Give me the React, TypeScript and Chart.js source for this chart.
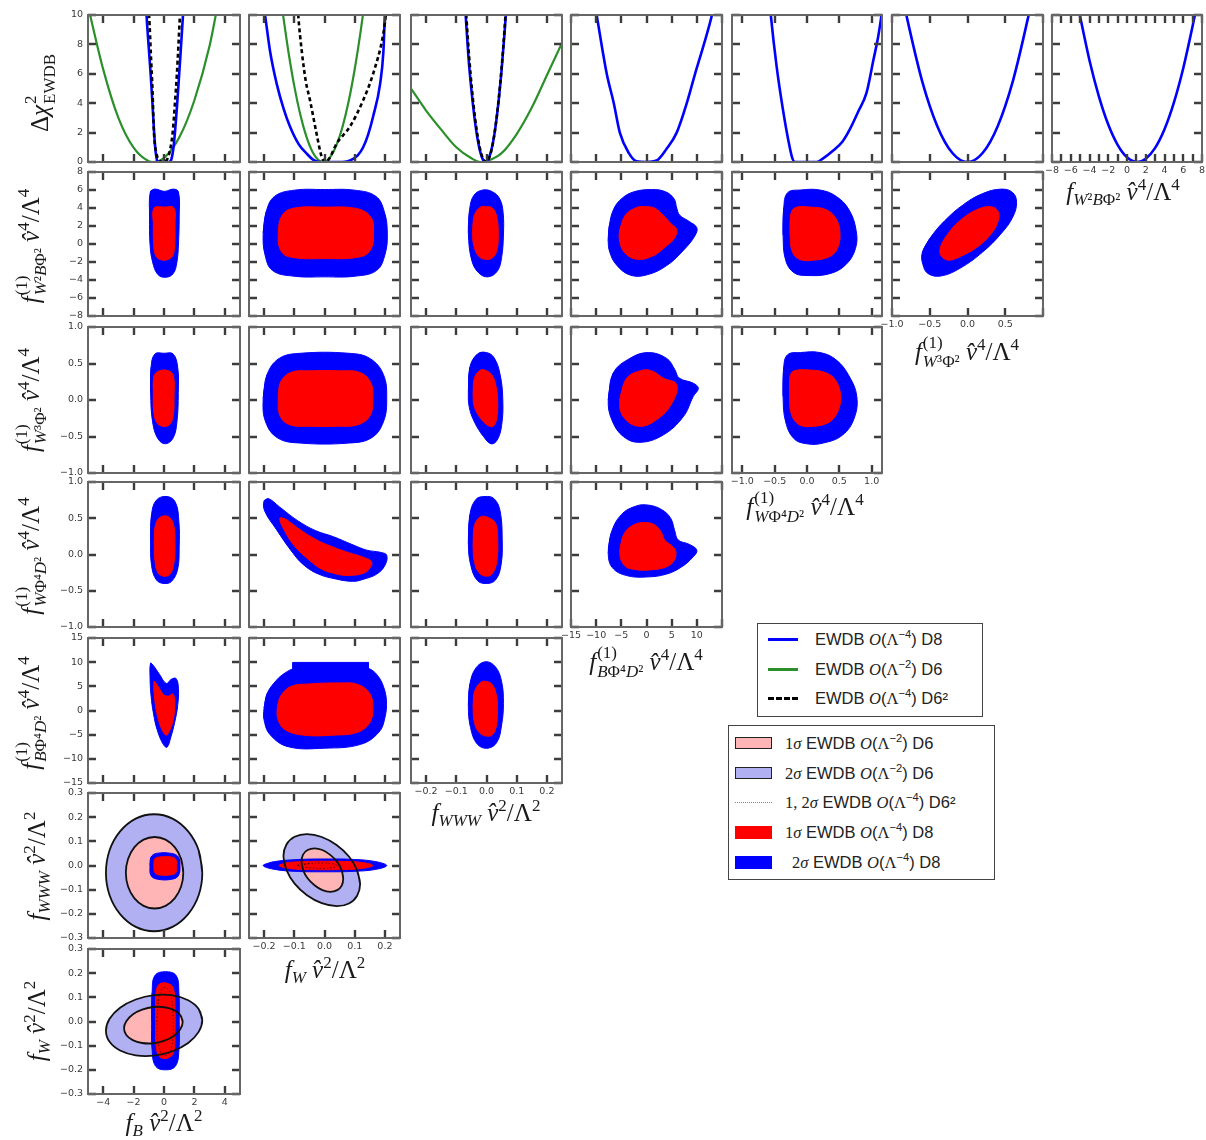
import React, { useEffect, useRef } from "react";
import { Chart, registerables } from "chart.js";

Chart.register(...registerables);

type Pt = [number, number];

/* ================= DATA ================= */
// columns: f_B, f_W, f_WWW, f_BΦ4D2, f_WΦ4D2, f_W3Φ2, f_W2BΦ2
const colRange: [number, number][] = [[-5, 5], [-0.25, 0.25], [-0.25, 0.25], [-15, 15], [-1.16, 1.16], [-1, 1], [-8, 8]];
// rows: Δχ², f_W2BΦ2, f_W3Φ2, f_WΦ4D2, f_BΦ4D2, f_WWW, f_W
const rowRange: [number, number][] = [[0, 10], [-8, 8], [-1, 1], [-1, 1], [-15, 15], [-0.3, 0.3], [-0.3, 0.3]];

const ticksFB = [-4, -2, 0, 2, 4];
const labelsFB = ["−4", "−2", "0", "2", "4"];
const ticksSmall = [-0.2, -0.1, 0, 0.1, 0.2];
const labelsSmall = ["−0.2", "−0.1", "0.0", "0.1", "0.2"];
const ticksFifteen = [-15, -10, -5, 0, 5, 10, 15];
const labelsFifteenX = ["−15", "−10", "−5", "0", "5", "10", ""];
const labelsFifteenY = ["−15", "−10", "−5", "0", "5", "10", "15"];
const ticksUnit = [-1, -0.5, 0, 0.5, 1];
const labelsUnit = ["−1.0", "−0.5", "0.0", "0.5", "1.0"];
const labelsUnitX5 = ["−1.0", "−0.5", "0.0", "0.5", ""];
const ticksEightX = [-8, -7, -6, -5, -4, -3, -2, -1, 0, 1, 2, 3, 4, 5, 6, 7, 8];
const labelsEightX = ["−8", "", "−6", "", "−4", "", "−2", "", "0", "", "2", "", "4", "", "6", "", "8"];
const ticksEightY = [-8, -6, -4, -2, 0, 2, 4, 6, 8];
const labelsEightY = ["−8", "−6", "−4", "−2", "0", "2", "4", "6", "8"];
const ticksChi = [0, 2, 4, 6, 8, 10];
const labelsChi = ["0", "2", "4", "6", "8", "10"];
const ticksThree = [-0.3, -0.2, -0.1, 0, 0.1, 0.2, 0.3];
const labelsThree = ["−0.3", "−0.2", "−0.1", "0.0", "0.1", "0.2", "0.3"];

const colTicks = [ticksFB, ticksSmall, ticksSmall, ticksFifteen, ticksUnit, ticksUnit, ticksEightX];
const colLabels = [labelsFB, labelsSmall, labelsSmall, labelsFifteenX, labelsUnit, labelsUnitX5, labelsEightX];
const rowTicks = [ticksChi, ticksEightY, ticksUnit, ticksUnit, ticksFifteen, ticksThree, ticksThree];
const rowLabels = [labelsChi, labelsEightY, labelsUnit, labelsUnit, labelsFifteenY, labelsThree, labelsThree];

// ---- Δχ² profiles (row 0) ----
const chiFB_D8: Pt[] = [[-1.2, 11], [-1.15, 10], [-0.88, 6], [-0.76, 4], [-0.65, 2], [-0.55, 0.7], [-0.45, 0.1], [-0.3, 0], [0.3, 0], [0.45, 0.1], [0.6, 0.8], [0.72, 2], [0.87, 4], [1.0, 6], [1.25, 10], [1.3, 11]];
const chiFB_D6: Pt[] = [[-5, 10.6], [-4, 6.3], [-3, 3.0], [-2, 0.97], [-1, 0.05], [-0.7, 0], [0, 0.28], [1, 1.66], [2, 4.2], [3, 7.9], [3.5, 10.5]];
const chiFB_D6sq: Pt[] = [[-1.05, 11], [-0.98, 10], [-0.85, 7], [-0.76, 5], [-0.66, 2], [-0.5, 0.6], [-0.3, 0.1], [-0.1, 0], [0.15, 0.1], [0.35, 0.6], [0.57, 2], [0.72, 4], [0.85, 6], [1.05, 10], [1.1, 11]];

const chiFW_D8: Pt[] = [[-0.205, 11], [-0.197, 10], [-0.18, 7.5], [-0.158, 5.3], [-0.135, 3.6], [-0.114, 2.4], [-0.085, 1.2], [-0.059, 0.57], [-0.035, 0.12], [-0.015, 0], [0.06, 0], [0.085, 0.1], [0.11, 0.45], [0.128, 1.0], [0.145, 1.9], [0.161, 3.1], [0.184, 5.3], [0.195, 7.5], [0.2, 10], [0.205, 11.5]];
const chiFW_D6: Pt[] = [[-0.14, 10.4], [-0.12, 7.57], [-0.1, 5.16], [-0.08, 3.21], [-0.06, 1.73], [-0.04, 0.7], [-0.02, 0.13], [0, 0.01], [0.02, 0.36], [0.04, 1.16], [0.06, 2.42], [0.08, 4.13], [0.1, 6.31], [0.12, 8.94], [0.135, 11.2]];
const chiFW_D6sq: Pt[] = [[-0.09, 11], [-0.087, 10], [-0.075, 7.5], [-0.062, 5.5], [-0.048, 4.2], [-0.026, 1.9], [-0.01, 0.4], [0.003, 0], [0.015, 0.2], [0.04, 1.25], [0.084, 2.4], [0.128, 4.2], [0.161, 6.0], [0.195, 8.75], [0.205, 10.3]];

const chiFWWW_D8: Pt[] = [[-0.072, 11], [-0.069, 10], [-0.06, 7.2], [-0.05, 4.9], [-0.04, 3.05], [-0.03, 1.62], [-0.02, 0.64], [-0.01, 0.11], [0, 0.02], [0.01, 0.38], [0.02, 1.17], [0.03, 2.42], [0.04, 4.12], [0.05, 6.26], [0.06, 8.85], [0.065, 10.3]];
const chiFWWW_D6: Pt[] = [[-0.25, 5.0], [-0.2, 3.5], [-0.15, 2.2], [-0.1, 1.0], [-0.05, 0.25], [-0.02, 0], [0, 0.05], [0.05, 0.6], [0.1, 1.9], [0.15, 3.7], [0.2, 5.9], [0.25, 8.1]];
const chiFWWW_D6sq: Pt[] = [[-0.07, 11], [-0.067, 10], [-0.058, 7.3], [-0.048, 4.9], [-0.038, 3.0], [-0.028, 1.6], [-0.018, 0.6], [-0.008, 0.1], [0, 0], [0.01, 0.35], [0.02, 1.15], [0.03, 2.45], [0.04, 4.2], [0.05, 6.4], [0.06, 9.1], [0.064, 10.4]];

const chiBPhi_D8: Pt[] = [[-10.2, 10.6], [-10, 10.2], [-7.9, 6], [-6.5, 4], [-5.3, 2], [-3.5, 0.6], [-2, 0.05], [0, 0], [2, 0.1], [4, 0.9], [6, 2], [8, 4], [9.65, 6], [11.4, 8], [13, 10], [13.3, 10.5]];
const chiWPhi_D8: Pt[] = [[-0.58, 11], [-0.56, 10], [-0.47, 6.5], [-0.37, 3.5], [-0.29, 1.5], [-0.23, 0.3], [-0.185, 0], [0.15, 0], [0.25, 0.25], [0.41, 0.8], [0.55, 1.4], [0.66, 2.2], [0.8, 3.5], [0.92, 4.7], [1.03, 7], [1.1, 8.5], [1.16, 10.2]];
const chiW3_D8: Pt[] = [[-0.85, 11], [-0.8, 9.77], [-0.6, 5.49], [-0.4, 2.44], [-0.2, 0.61], [0, 0], [0.2, 0.61], [0.4, 2.44], [0.6, 5.49], [0.8, 9.77], [0.85, 11]];
const chiW2B_D8: Pt[] = [[-5.2, 10.5], [-4, 6.91], [-3, 4.47], [-2, 2.55], [-1, 1.17], [0, 0.32], [1.1, 0], [2, 0.22], [3, 0.96], [4, 2.23], [5, 4.04], [6, 6.38], [7, 9.25], [7.4, 10.5]];

// ---- 2D regions: row 1 (f_W2BΦ2) ----
const r1c0Blue: Pt[] = [[-0.9, 5.8], [-0.6, 6.1], [0.05, 5.85], [0.6, 6.1], [0.95, 5.8], [1.0, 3], [0.95, 0], [0.85, -2], [0.6, -3.3], [0.1, -3.7], [-0.4, -3.4], [-0.75, -2], [-0.92, 0], [-0.95, 3]];
const r1c0Red: Pt[] = [[-0.65, 4.0], [0, 4.1], [0.65, 4.0], [0.72, 2], [0.7, 0], [0.6, -1.2], [0.3, -1.7], [-0.2, -1.75], [-0.55, -1.3], [-0.68, 0], [-0.7, 2]];
const r1c1Blue: Pt[] = [[-0.203, 1.2], [-0.193, 3.6], [-0.165, 5.3], [-0.1, 5.98], [0, 6.05], [0.1, 5.98], [0.17, 5.3], [0.198, 3.6], [0.208, 1.2], [0.2, -1.2], [0.172, -2.95], [0.1, -3.58], [0, -3.65], [-0.1, -3.58], [-0.172, -2.95], [-0.197, -1.2]];
const r1c1Red: Pt[] = [[-0.153, 1.2], [-0.145, 2.9], [-0.112, 3.9], [0, 4.1], [0.112, 3.9], [0.155, 2.9], [0.162, 1.2], [0.155, -0.5], [0.122, -1.4], [0, -1.62], [-0.12, -1.4], [-0.148, -0.5]];
const r1c2Blue: Pt[] = [[-0.06, 1.2], [-0.056, 3.8], [-0.042, 5.4], [-0.012, 6.0], [0.02, 5.8], [0.044, 5.0], [0.055, 3.5], [0.056, 1.0], [0.05, -1.5], [0.036, -3.0], [0.005, -3.65], [-0.026, -3.2], [-0.049, -1.8]];
const r1c2Red: Pt[] = [[-0.046, 1.2], [-0.04, 3.2], [-0.02, 4.1], [0, 4.15], [0.02, 4.0], [0.034, 3.0], [0.039, 1.2], [0.035, -0.6], [0.021, -1.5], [0, -1.72], [-0.025, -1.4], [-0.041, -0.3]];
const r1c3Blue: Pt[] = [[-7.6, 0.3], [-7.4, 2.0], [-6.5, 3.9], [-4.8, 5.1], [-2.5, 5.8], [1.0, 6.05], [3.8, 5.8], [5.5, 5.0], [6.0, 4.0], [6.6, 3.2], [8.5, 2.5], [10.0, 1.8], [9.6, 0.9], [7.5, -0.6], [4.0, -2.4], [0.0, -3.44], [-3.3, -3.44], [-6.0, -2.3], [-7.3, -0.9]];
const r1c3Red: Pt[] = [[-5.3, 1.56], [-4.2, 3.2], [-2.0, 4.05], [0.0, 4.15], [1.7, 3.96], [3.3, 3.2], [4.8, 2.3], [6.0, 1.6], [5.5, 0.6], [4.0, -0.2], [1.35, -1.3], [-1.95, -1.7], [-4.3, -1.0], [-5.3, 0.2]];
const r1c4Blue: Pt[] = [[-0.37, 1.0], [-0.36, 4.0], [-0.3, 5.7], [-0.1, 6.0], [0.2, 6.0], [0.45, 5.3], [0.65, 3.8], [0.76, 1.5], [0.75, -0.5], [0.6, -2.3], [0.35, -3.3], [0.0, -3.5], [-0.2, -3.2], [-0.33, -1.8]];
const r1c4Red: Pt[] = [[-0.26, 1.0], [-0.25, 3.3], [-0.18, 4.05], [0.05, 4.1], [0.3, 3.8], [0.45, 2.8], [0.51, 1.2], [0.47, -0.5], [0.35, -1.4], [0.1, -1.8], [-0.12, -1.7], [-0.23, -0.8]];
const r1c5Blue: Pt[] = [[-0.6, -1.0], [-0.5, 0.6], [-0.3, 2.6], [-0.05, 4.4], [0.2, 5.6], [0.45, 6.1], [0.6, 5.7], [0.65, 4.6], [0.6, 3.0], [0.45, 1.2], [0.2, -0.9], [-0.1, -2.7], [-0.35, -3.55], [-0.52, -3.3], [-0.59, -2.3]];
const r1c5Red: Pt[] = [[-0.36, -0.4], [-0.28, 0.9], [-0.1, 2.6], [0.12, 3.8], [0.3, 4.15], [0.4, 3.7], [0.41, 2.7], [0.32, 1.2], [0.12, -0.4], [-0.1, -1.4], [-0.25, -1.8], [-0.35, -1.3]];

// ---- row 2 (f_W3Φ2) ----
const r2c0Blue: Pt[] = [[-0.88, 0.1], [-0.85, 0.45], [-0.6, 0.63], [0.0, 0.64], [0.6, 0.63], [0.9, 0.45], [0.94, 0.1], [0.85, -0.3], [0.6, -0.52], [0.1, -0.6], [-0.4, -0.53], [-0.75, -0.3]];
const r2c0Red: Pt[] = [[-0.7, 0.05], [-0.65, 0.33], [-0.3, 0.4], [0.3, 0.4], [0.62, 0.33], [0.66, 0.05], [0.6, -0.22], [0.35, -0.34], [-0.1, -0.36], [-0.5, -0.3], [-0.68, -0.15]];
const r2c1Blue: Pt[] = [[-0.203, 0.02], [-0.19, 0.35], [-0.15, 0.57], [-0.08, 0.64], [0.08, 0.64], [0.15, 0.57], [0.195, 0.35], [0.206, 0.02], [0.195, -0.3], [0.155, -0.52], [0.08, -0.59], [-0.08, -0.59], [-0.155, -0.52], [-0.195, -0.3]];
const r2c1Red: Pt[] = [[-0.153, 0.02], [-0.145, 0.25], [-0.11, 0.38], [-0.05, 0.4], [0.05, 0.4], [0.115, 0.38], [0.152, 0.25], [0.16, 0.02], [0.15, -0.22], [0.11, -0.34], [0.04, -0.36], [-0.05, -0.36], [-0.115, -0.34], [-0.147, -0.22]];
const r2c2Blue: Pt[] = [[-0.06, 0.1], [-0.055, 0.45], [-0.03, 0.63], [0, 0.65], [0.025, 0.58], [0.045, 0.35], [0.054, 0], [0.05, -0.35], [0.035, -0.55], [0.015, -0.6], [-0.01, -0.5], [-0.04, -0.3], [-0.057, -0.1]];
const r2c2Red: Pt[] = [[-0.044, 0.05], [-0.04, 0.3], [-0.02, 0.41], [0, 0.4], [0.02, 0.33], [0.033, 0.15], [0.037, -0.05], [0.034, -0.25], [0.022, -0.36], [0.005, -0.35], [-0.02, -0.25], [-0.04, -0.1]];
const r2c3Blue: Pt[] = [[-7.6, 0], [-6.6, 0.37], [-3.3, 0.57], [0.36, 0.65], [4.0, 0.57], [5.6, 0.42], [6.5, 0.3], [9.3, 0.23], [10.3, 0.16], [9.3, 0.05], [7.3, -0.23], [3.3, -0.48], [-1.3, -0.58], [-4.6, -0.5], [-6.9, -0.27]];
const r2c3Red: Pt[] = [[-5.3, 0], [-3.9, 0.3], [-0.6, 0.41], [1.35, 0.39], [3.3, 0.3], [6.0, 0.21], [5.0, -0.05], [2.0, -0.27], [-1.6, -0.36], [-4.6, -0.23]];
const r2c4Blue: Pt[] = [[-0.37, 0.05], [-0.36, 0.45], [-0.3, 0.62], [-0.1, 0.65], [0.2, 0.65], [0.45, 0.55], [0.65, 0.33], [0.77, 0.05], [0.73, -0.25], [0.55, -0.48], [0.25, -0.59], [0, -0.6], [-0.2, -0.53], [-0.33, -0.3]];
const r2c4Red: Pt[] = [[-0.27, 0.05], [-0.26, 0.33], [-0.2, 0.4], [0.05, 0.41], [0.3, 0.37], [0.45, 0.26], [0.52, 0.05], [0.48, -0.15], [0.35, -0.3], [0.1, -0.36], [-0.12, -0.34], [-0.24, -0.2]];

// ---- row 3 (f_WΦ4D2) ----
const r3c0Blue: Pt[] = [[-0.88, 0.2], [-0.82, 0.55], [-0.5, 0.75], [0.2, 0.8], [0.75, 0.72], [0.98, 0.45], [1.0, 0.1], [0.9, -0.2], [0.5, -0.37], [0, -0.4], [-0.5, -0.35], [-0.82, -0.15]];
const r3c0Red: Pt[] = [[-0.64, 0.15], [-0.55, 0.42], [-0.2, 0.52], [0.3, 0.52], [0.62, 0.42], [0.72, 0.15], [0.65, -0.12], [0.4, -0.27], [0, -0.3], [-0.4, -0.25], [-0.6, -0.08]];
const r3c1Blue: Pt[] = [[-0.2, 0.74], [-0.185, 0.77], [-0.15, 0.66], [-0.09, 0.47], [-0.03, 0.33], [0.03, 0.245], [0.09, 0.14], [0.14, 0.06], [0.185, 0.03], [0.206, -0.01], [0.2, -0.15], [0.173, -0.27], [0.13, -0.34], [0.095, -0.37], [0.04, -0.34], [-0.02, -0.27], [-0.07, -0.14], [-0.11, 0.05], [-0.16, 0.35], [-0.198, 0.6]];
const r3c1Red: Pt[] = [[-0.148, 0.5], [-0.13, 0.49], [-0.08, 0.34], [-0.026, 0.2], [0.03, 0.1], [0.084, 0.02], [0.13, -0.04], [0.156, -0.1], [0.148, -0.2], [0.128, -0.26], [0.08, -0.29], [0.04, -0.27], [-0.01, -0.2], [-0.05, -0.08], [-0.1, 0.12], [-0.135, 0.35]];
const r3c2Blue: Pt[] = [[-0.06, 0.15], [-0.055, 0.55], [-0.035, 0.76], [-0.005, 0.8], [0.025, 0.77], [0.045, 0.6], [0.052, 0.2], [0.048, -0.15], [0.03, -0.35], [0, -0.4], [-0.03, -0.36], [-0.052, -0.15]];
const r3c2Red: Pt[] = [[-0.044, 0.1], [-0.04, 0.4], [-0.02, 0.52], [0.005, 0.51], [0.03, 0.43], [0.037, 0.2], [0.034, -0.1], [0.02, -0.26], [0, -0.3], [-0.025, -0.25], [-0.04, -0.1]];
const r3c3Blue: Pt[] = [[-7.6, 0.02], [-7.0, 0.3], [-5.0, 0.55], [-2.0, 0.67], [0.5, 0.68], [3.0, 0.62], [4.8, 0.5], [5.6, 0.33], [6.3, 0.2], [8.5, 0.14], [10.0, 0.06], [9.3, -0.03], [7.0, -0.17], [4.0, -0.27], [0, -0.31], [-4.0, -0.29], [-6.8, -0.18]];
const r3c3Red: Pt[] = [[-5.3, 0.03], [-4.5, 0.28], [-2.5, 0.41], [0, 0.44], [1.8, 0.4], [3.0, 0.3], [3.6, 0.2], [5.0, 0.12], [5.8, 0.05], [5.5, -0.08], [4.0, -0.17], [1.0, -0.21], [-2.0, -0.21], [-4.4, -0.15]];

// ---- row 4 (f_BΦ4D2) ----
const r4c0Blue: Pt[] = [[-0.88, 9.8], [-0.7, 9.3], [-0.3, 7.5], [0.15, 5.6], [0.5, 6.5], [0.8, 6.6], [0.95, 4.5], [0.9, 1.0], [0.7, -2.5], [0.45, -5.5], [0.2, -7.6], [-0.05, -7.0], [-0.45, -4.0], [-0.7, -0.5], [-0.85, 3.0], [-0.92, 7.0]];
const r4c0Red: Pt[] = [[-0.65, 6.0], [-0.4, 5.0], [0, 3.2], [0.3, 3.0], [0.6, 3.4], [0.7, 1.0], [0.6, -2.0], [0.35, -4.3], [0.15, -5.1], [-0.1, -4.2], [-0.4, -1.5], [-0.6, 2.0]];
const r4c1Blue: Pt[] = [[-0.2, 0.5], [-0.19, 3.5], [-0.16, 6.2], [-0.13, 7.8], [-0.1, 8.7], [-0.05, 9.3], [0.05, 9.35], [0.12, 9.1], [0.15, 8.6], [0.175, 7.3], [0.195, 5.0], [0.205, 2.0], [0.2, -1.5], [0.18, -4.5], [0.12, -7.0], [0, -7.8], [-0.12, -7.5], [-0.18, -5.0], [-0.2, -2.0]];
const r4c1BlueBar: Pt[] = [[-0.105, 8.0], [-0.105, 9.95], [0.145, 9.95], [0.145, 8.0]];
const r4c1Red: Pt[] = [[-0.156, 0.5], [-0.145, 3.0], [-0.11, 5.0], [-0.05, 5.5], [0.05, 5.7], [0.11, 5.4], [0.15, 3.5], [0.16, 0.5], [0.15, -2.5], [0.11, -4.5], [0.03, -5.1], [-0.07, -5.1], [-0.13, -4.0], [-0.153, -2.0]];
const r4c2Blue: Pt[] = [[-0.06, 1.0], [-0.055, 5.5], [-0.035, 8.8], [-0.002, 10.1], [0.03, 9.0], [0.05, 6.0], [0.056, 1.5], [0.05, -3.0], [0.035, -6.5], [0.005, -7.8], [-0.03, -7.0], [-0.053, -3.5]];
const r4c2Red: Pt[] = [[-0.044, 0.5], [-0.04, 3.8], [-0.02, 5.8], [0, 6.0], [0.02, 5.3], [0.033, 3.0], [0.036, 0], [0.033, -3.0], [0.02, -5.0], [0, -5.3], [-0.025, -4.5], [-0.04, -2.5]];

// ---- row 5 (f_WWW) ----
const r5c0D6two: Pt[] = [[2.52, -0.03], [2.28, 0.063], [1.59, 0.141], [0.56, 0.194], [-0.65, 0.212], [-1.86, 0.194], [-2.89, 0.141], [-3.58, 0.063], [-3.82, -0.03], [-3.58, -0.123], [-2.89, -0.201], [-1.86, -0.254], [-0.65, -0.272], [0.56, -0.254], [1.59, -0.201], [2.28, -0.123]];
const r5c0D6one: Pt[] = [[1.27, -0.03], [1.126, 0.027], [0.716, 0.075], [0.104, 0.107], [-0.62, 0.118], [-1.344, 0.107], [-1.956, 0.075], [-2.366, 0.027], [-2.51, -0.03], [-2.366, -0.087], [-1.956, -0.135], [-1.344, -0.167], [-0.62, -0.178], [0.104, -0.167], [0.716, -0.135], [1.126, -0.087]];
const r5c0Blue: Pt[] = [[-0.92, 0.0], [-0.85, 0.035], [-0.5, 0.05], [0.5, 0.05], [0.95, 0.035], [1.05, 0.0], [0.95, -0.042], [0.5, -0.057], [-0.4, -0.057], [-0.85, -0.042]];
const r5c0Red: Pt[] = [[-0.66, 0.0], [-0.6, 0.028], [-0.3, 0.035], [0.5, 0.035], [0.78, 0.025], [0.83, 0.0], [0.78, -0.03], [0.4, -0.039], [-0.3, -0.039], [-0.6, -0.03]];
const r5c1D6two: Pt[] = [[0.118, -0.077], [0.108, -0.02], [0.081, 0.037], [0.04, 0.085], [-0.009, 0.118], [-0.058, 0.13], [-0.099, 0.119], [-0.126, 0.087], [-0.136, 0.039], [-0.126, -0.018], [-0.099, -0.075], [-0.058, -0.123], [-0.009, -0.156], [0.04, -0.168], [0.081, -0.157], [0.108, -0.125]];
const r5c1D6one: Pt[] = [[0.062, -0.054], [0.057, -0.02], [0.042, 0.015], [0.019, 0.044], [-0.007, 0.064], [-0.033, 0.071], [-0.056, 0.064], [-0.071, 0.045], [-0.076, 0.016], [-0.071, -0.018], [-0.056, -0.053], [-0.033, -0.082], [-0.007, -0.102], [0.019, -0.109], [0.042, -0.102], [0.057, -0.083]];
const r5c1Blue: Pt[] = [[-0.203, 0.0], [-0.17, 0.015], [-0.1, 0.024], [0.0, 0.027], [0.1, 0.025], [0.17, 0.016], [0.206, 0.0], [0.17, -0.016], [0.1, -0.024], [0.0, -0.026], [-0.1, -0.024], [-0.17, -0.015]];
const r5c1Red: Pt[] = [[-0.15, 0.0], [-0.12, 0.012], [-0.05, 0.017], [0.05, 0.017], [0.12, 0.013], [0.16, 0.0], [0.12, -0.013], [0.05, -0.017], [-0.05, -0.017], [-0.12, -0.012]];
const r5c1D6sq: Pt[] = [[-0.09, 0], [-0.05, 0.008], [0.0, 0.01], [0.03, 0.006], [0.04, 0], [0.03, -0.008], [0, -0.012], [-0.05, -0.009]];

// ---- row 6 (f_W) ----
const r6c0D6two: Pt[] = [[2.52, 0.006], [2.28, 0.052], [1.59, 0.088], [0.56, 0.108], [-0.65, 0.109], [-1.86, 0.091], [-2.89, 0.057], [-3.58, 0.011], [-3.82, -0.038], [-3.58, -0.084], [-2.89, -0.12], [-1.86, -0.14], [-0.65, -0.141], [0.56, -0.123], [1.59, -0.089], [2.28, -0.043]];
const r6c0D6one: Pt[] = [[1.23, -0.002], [1.08, 0.026], [0.66, 0.047], [0.04, 0.059], [-0.7, 0.06], [-1.44, 0.049], [-2.06, 0.029], [-2.48, 0.001], [-2.63, -0.028], [-2.48, -0.056], [-2.06, -0.077], [-1.44, -0.089], [-0.7, -0.09], [0.04, -0.079], [0.66, -0.059], [1.08, -0.031]];
const r6c0Blue: Pt[] = [[-0.81, 0.0], [-0.78, 0.12], [-0.6, 0.19], [0.1, 0.206], [0.8, 0.19], [0.98, 0.12], [1.0, 0.0], [0.98, -0.12], [0.75, -0.185], [0.1, -0.2], [-0.55, -0.185], [-0.78, -0.12]];
const r6c0Red: Pt[] = [[-0.55, 0.0], [-0.52, 0.12], [-0.3, 0.155], [0.2, 0.158], [0.6, 0.14], [0.72, 0.06], [0.72, -0.05], [0.62, -0.13], [0.2, -0.152], [-0.3, -0.145], [-0.52, -0.1]];
const r6c0D6sq: Pt[] = [[-0.45, 0], [-0.35, 0.1], [0, 0.14], [0.4, 0.12], [0.6, 0.0], [0.45, -0.12], [0, -0.14], [-0.35, -0.1]];

type Layer = [string, Pt[]];
const panelLayers: Record<string, Layer[]> = {
  "0-0": [["cGreen", chiFB_D6], ["cBlue", chiFB_D8], ["cDash", chiFB_D6sq]],
  "0-1": [["cGreen", chiFW_D6], ["cBlue", chiFW_D8], ["cDash", chiFW_D6sq]],
  "0-2": [["cGreen", chiFWWW_D6], ["cBlue", chiFWWW_D8], ["cDash", chiFWWW_D6sq]],
  "0-3": [["cBlue", chiBPhi_D8]],
  "0-4": [["cBlue", chiWPhi_D8]],
  "0-5": [["cBlue", chiW3_D8]],
  "0-6": [["cBlue", chiW2B_D8]],
  "1-0": [["d8two", r1c0Blue], ["d8one", r1c0Red]],
  "1-1": [["d8two", r1c1Blue], ["d8one", r1c1Red]],
  "1-2": [["d8two", r1c2Blue], ["d8one", r1c2Red]],
  "1-3": [["d8two", r1c3Blue], ["d8one", r1c3Red]],
  "1-4": [["d8two", r1c4Blue], ["d8one", r1c4Red]],
  "1-5": [["d8two", r1c5Blue], ["d8one", r1c5Red]],
  "2-0": [["d8two", r2c0Blue], ["d8one", r2c0Red]],
  "2-1": [["d8two", r2c1Blue], ["d8one", r2c1Red]],
  "2-2": [["d8two", r2c2Blue], ["d8one", r2c2Red]],
  "2-3": [["d8two", r2c3Blue], ["d8one", r2c3Red]],
  "2-4": [["d8two", r2c4Blue], ["d8one", r2c4Red]],
  "3-0": [["d8two", r3c0Blue], ["d8one", r3c0Red]],
  "3-1": [["d8two", r3c1Blue], ["d8one", r3c1Red]],
  "3-2": [["d8two", r3c2Blue], ["d8one", r3c2Red]],
  "3-3": [["d8two", r3c3Blue], ["d8one", r3c3Red]],
  "4-0": [["d8two", r4c0Blue], ["d8one", r4c0Red]],
  "4-1": [["d8two", r4c1Blue], ["bar", r4c1BlueBar], ["d8one", r4c1Red]],
  "4-2": [["d8two", r4c2Blue], ["d8one", r4c2Red]],
  "5-0": [["d6two", r5c0D6two], ["d6one", r5c0D6one], ["d8two", r5c0Blue], ["d8one", r5c0Red], ["outline", r5c0D6two], ["outline", r5c0D6one]],
  "5-1": [["d6two", r5c1D6two], ["d6one", r5c1D6one], ["d8two", r5c1Blue], ["d8one", r5c1Red], ["dot", r5c1D6sq], ["outline", r5c1D6two], ["outline", r5c1D6one]],
  "6-0": [["d6two", r6c0D6two], ["d6one", r6c0D6one], ["d8two", r6c0Blue], ["d8one", r6c0Red], ["dot", r6c0D6sq], ["outline", r6c0D6two], ["outline", r6c0D6one]],
};

/* ================= LAYOUT & STYLE ================= */
const colLeft = [88, 249, 411, 571, 732, 892, 1052];
const colWidth = [152, 151, 151, 151, 150, 151, 150];
const rowTop = [15, 172, 327, 482, 638, 793, 949];
const rowHeight = [147, 144, 146, 145, 145, 145, 145];

const ML = 44, MR = 14, MT = 10, MB = 26, TL = 8;
const FRAME = "#666666";
const TICKC = "#3c3c3c";
const TICK_TEXT = "#3a3a3a";
const TICK_FONT = { family: "'DejaVu Sans', sans-serif", size: 9.5 };

const STYLE: Record<string, any> = {
  d8two: { fill: "shape", backgroundColor: "#0000ff", borderColor: "#0000ff", borderWidth: 1, tension: 0.4 },
  bar: { fill: "shape", backgroundColor: "#0000ff", borderColor: "#0000ff", borderWidth: 1, tension: 0 },
  d8one: { fill: "shape", backgroundColor: "#ff0000", borderColor: "#ff0000", borderWidth: 1, tension: 0.4 },
  d6two: { fill: "shape", backgroundColor: "#b0b0f2", borderColor: "#b0b0f2", borderWidth: 0, tension: 0.4 },
  d6one: { fill: "shape", backgroundColor: "#ffb5b5", borderColor: "#ffb5b5", borderWidth: 0, tension: 0.4 },
  outline: { fill: false, borderColor: "#111", borderWidth: 1.8, tension: 0.4 },
  dot: { fill: false, borderColor: "rgba(40,0,0,0.7)", borderWidth: 1, borderDash: [1.5, 2], tension: 0.4 },
  cBlue: { fill: false, borderColor: "#0000ff", borderWidth: 2.6, cubicInterpolationMode: "monotone" },
  cGreen: { fill: false, borderColor: "#2b8f2b", borderWidth: 2.2, cubicInterpolationMode: "monotone" },
  cDash: { fill: false, borderColor: "#000", borderWidth: 2.6, borderDash: [4, 3], cubicInterpolationMode: "monotone" },
};
const CLOSED = new Set(["d8two", "bar", "d8one", "d6two", "d6one", "outline", "dot"]);

type PanelSpec = {
  key: string; left: number; top: number; w: number; h: number;
  xr: [number, number]; yr: [number, number];
  xt: number[]; xl: string[]; yt: number[]; yl: string[];
  showX: boolean; showY: boolean; layers: Layer[];
};

const PANELS: PanelSpec[] = [];
for (let r = 0; r < 7; r++) {
  const nCols = r === 0 ? 7 : 7 - r;
  for (let c = 0; c < nCols; c++) {
    PANELS.push({
      key: `${r}-${c}`,
      left: colLeft[c], top: rowTop[r], w: colWidth[c], h: rowHeight[r],
      xr: colRange[c], yr: rowRange[r],
      xt: colTicks[c], xl: colLabels[c], yt: rowTicks[r], yl: rowLabels[r],
      showX: r === 6 - c, showY: c === 0,
      layers: panelLayers[`${r}-${c}`] || [],
    });
  }
}

// Inward tick marks (matplotlib classic style) on all four sides, placed with the scales' own ticks.
const frameTicks = {
  id: "frameTicks",
  afterDraw(chart: any) {
    const { ctx, chartArea: a } = chart;
    ctx.save();
    ctx.setLineDash([]);
    ctx.strokeStyle = TICKC;
    ctx.lineWidth = 2.4;
    ctx.lineCap = "butt";
    Object.keys(chart.scales).forEach((id) => {
      const s = chart.scales[id];
      const pos = s.options.position;
      ctx.beginPath();
      s.ticks.forEach((t: any) => {
        const p = Math.round(s.getPixelForValue(t.value));
        if (pos === "bottom") { ctx.moveTo(p, a.bottom); ctx.lineTo(p, a.bottom - TL); }
        else if (pos === "top") { ctx.moveTo(p, a.top); ctx.lineTo(p, a.top + TL); }
        else if (pos === "left") { ctx.moveTo(a.left, p); ctx.lineTo(a.left + TL, p); }
        else { ctx.moveTo(a.right, p); ctx.lineTo(a.right - TL, p); }
      });
      ctx.stroke();
    });
    ctx.strokeStyle = FRAME;
    ctx.lineWidth = 2;
    ctx.strokeRect(a.left, a.top, a.right - a.left, a.bottom - a.top);
    ctx.restore();
  },
};

function makeAxis(pos: string, range: [number, number], ticks: number[], labels: string[], show: boolean) {
  const isX = pos === "bottom" || pos === "top";
  return {
    type: "linear",
    position: pos,
    min: range[0],
    max: range[1],
    bounds: "data",
    afterBuildTicks: (s: any) => { s.ticks = ticks.map((v) => ({ value: v })); },
    afterFit: (s: any) => {
      if (isX) s.height = pos === "bottom" ? MB : 0;
      else s.width = pos === "left" ? ML : 0;
      s.paddingLeft = 0; s.paddingRight = 0; s.paddingTop = 0; s.paddingBottom = 0;
    },
    grid: { display: false, drawOnChartArea: false, drawTicks: false },
    border: { display: false },
    ticks: {
      display: show, autoSkip: false, maxRotation: 0, minRotation: 0,
      padding: isX ? 3 : 5,
      font: TICK_FONT, color: TICK_TEXT,
      callback: (_v: any, i: number) => labels[i] ?? "",
    },
  };
}

function Panel({ spec }: { spec: PanelSpec }) {
  const ref = useRef<HTMLCanvasElement>(null);
  const cw = spec.w + ML + MR;
  const ch = spec.h + MT + MB;
  useEffect(() => {
    const n = spec.layers.length;
    const datasets = spec.layers.map(([kind, pts], i) => {
      const arr = CLOSED.has(kind) ? [...pts, pts[0], pts[1]] : pts;
      return {
        data: arr.map(([x, y]) => ({ x, y })),
        showLine: true, pointRadius: 0, pointHoverRadius: 0,
        order: n - i,
        ...STYLE[kind],
      };
    });
    const chart = new Chart(ref.current as HTMLCanvasElement, {
      type: "scatter",
      data: { datasets } as any,
      plugins: [frameTicks],
      options: {
        animation: false, responsive: false, maintainAspectRatio: false, devicePixelRatio: 1,
        events: [],
        layout: { padding: { left: 0, right: MR, top: MT, bottom: 0 }, autoPadding: false },
        plugins: { legend: { display: false }, tooltip: { enabled: false } },
        scales: {
          x: makeAxis("bottom", spec.xr, spec.xt, spec.xl, spec.showX),
          x2: makeAxis("top", spec.xr, spec.xt, spec.xl, false),
          y: makeAxis("left", spec.yr, spec.yt, spec.yl, spec.showY),
          y2: makeAxis("right", spec.yr, spec.yt, spec.yl, false),
        },
      } as any,
    });
    return () => chart.destroy();
  }, []);
  return (
    <canvas
      ref={ref}
      width={cw}
      height={ch}
      style={{ position: "absolute", left: spec.left - ML, top: spec.top - MT, width: cw, height: ch }}
    />
  );
}

/* ================= TEXT ================= */
const SERIF = "'Liberation Serif', 'DejaVu Serif', serif";
const SANS = "'Liberation Sans', Arial, sans-serif";
const VHAT = "v\u0302";

const Sp = ({ c }: any) => <span style={{ fontSize: "0.68em", position: "relative", top: "-0.6em" }}>{c}</span>;
const Sb = ({ c }: any) => <span style={{ fontSize: "0.68em", position: "relative", top: "0.32em" }}>{c}</span>;
const SpSb = ({ sp, sb }: any) => (
  <span style={{ display: "inline-flex", flexDirection: "column", alignItems: "flex-start", fontSize: "0.68em", lineHeight: 1.12, verticalAlign: "0.7em", marginLeft: 1 }}>
    <span>{sp}</span>
    <span>{sb}</span>
  </span>
);
const Tail4 = () => <> <i>{VHAT}</i><Sp c="4" />/Λ<Sp c="4" /></>;
const Tail2 = () => <> <i>{VHAT}</i><Sp c="2" />/Λ<Sp c="2" /></>;

const xTitles = [
  { cx: 164, cy: 1124, el: <><i>f</i><Sb c={<i>B</i>} /><Tail2 /></> },
  { cx: 325, cy: 971, el: <><i>f</i><Sb c={<i>W</i>} /><Tail2 /></> },
  { cx: 486, cy: 814, el: <><i>f</i><Sb c={<i>WWW</i>} /><Tail2 /></> },
  { cx: 646, cy: 662, el: <><i>f</i><SpSb sp="(1)" sb={<><i>B</i>Φ⁴<i>D</i>²</>} /><Tail4 /></> },
  { cx: 805, cy: 507, el: <><i>f</i><SpSb sp="(1)" sb={<><i>W</i>Φ⁴<i>D</i>²</>} /><Tail4 /></> },
  { cx: 967, cy: 352, el: <><i>f</i><SpSb sp="(1)" sb={<><i>W</i>³Φ²</>} /><Tail4 /></> },
  { cx: 1123, cy: 193, el: <><i>f</i><Sb c={<><i>W</i>²<i>B</i>Φ²</>} /><Tail4 /></> },
];
const yTitles = [
  { cx: 40, cy: 93, el: <>Δ<i>χ</i><SpSb sp="2" sb="EWDB" /></> },
  { cx: 31, cy: 246, el: <><i>f</i><SpSb sp="(1)" sb={<><i>W</i>²<i>B</i>Φ²</>} /><Tail4 /></> },
  { cx: 31, cy: 400, el: <><i>f</i><SpSb sp="(1)" sb={<><i>W</i>³Φ²</>} /><Tail4 /></> },
  { cx: 31, cy: 556, el: <><i>f</i><SpSb sp="(1)" sb={<><i>W</i>Φ⁴<i>D</i>²</>} /><Tail4 /></> },
  { cx: 31, cy: 713, el: <><i>f</i><SpSb sp="(1)" sb={<><i>B</i>Φ⁴<i>D</i>²</>} /><Tail4 /></> },
  { cx: 38, cy: 866, el: <><i>f</i><Sb c={<i>WWW</i>} /><Tail2 /></> },
  { cx: 38, cy: 1021, el: <><i>f</i><Sb c={<i>W</i>} /><Tail2 /></> },
];

const OLam = ({ p }: { p: string }) => (
  <><span style={{ fontFamily: SERIF, fontStyle: "italic" }}>O</span>(<span style={{ fontFamily: SERIF }}>Λ</span><Sp c={p} />)</>
);
const Sig = ({ n }: { n: string }) => <span style={{ fontFamily: SERIF }}>{n}<i>σ</i></span>;

const legendLines = [
  { cy: 639, sample: { borderTop: "3px solid #0000ff" }, el: <>EWDB <OLam p="−4" /> D8</> },
  { cy: 669, sample: { borderTop: "3px solid #2b8f2b" }, el: <>EWDB <OLam p="−2" /> D6</> },
  { cy: 698, sample: { borderTop: "3px dashed #000" }, el: <>EWDB <OLam p="−4" /> D6²</> },
];
const legendPatches = [
  { cy: 743, tx: 785, patch: { background: "#ffb5b5", border: "1.6px solid #222", height: 12 }, el: <><Sig n="1" /> EWDB <OLam p="−2" /> D6</> },
  { cy: 773, tx: 785, patch: { background: "#b0b0f2", border: "1.6px solid #222", height: 12 }, el: <><Sig n="2" /> EWDB <OLam p="−2" /> D6</> },
  { cy: 802, tx: 785, patch: { borderTop: "1px dotted #888", height: 0 }, el: <><Sig n="1, 2" /> EWDB <OLam p="−4" /> D6²</> },
  { cy: 832, tx: 785, patch: { background: "#ff0000", height: 13 }, el: <><Sig n="1" /> EWDB <OLam p="−4" /> D8</> },
  { cy: 862, tx: 792, patch: { background: "#0000ff", height: 13 }, el: <><Sig n="2" /> EWDB <OLam p="−4" /> D8</> },
];

export default function App() {
  return (
    <div style={{ position: "absolute", left: 0, top: 0, width: 1206, height: 1140, background: "#fff", overflow: "hidden" }}>
      {PANELS.map((p) => <Panel key={p.key} spec={p} />)}
      {xTitles.map((t, i) => (
        <div key={"xt" + i} style={{ position: "absolute", left: t.cx, top: t.cy, transform: "translate(-50%,-50%)", whiteSpace: "nowrap", fontFamily: SERIF, fontSize: 25, color: "#1a1a1a", lineHeight: "30px" }}>{t.el}</div>
      ))}
      {yTitles.map((t, i) => (
        <div key={"yt" + i} style={{ position: "absolute", left: t.cx, top: t.cy, transform: "translate(-50%,-50%) rotate(-90deg)", whiteSpace: "nowrap", fontFamily: SERIF, fontSize: 25, color: "#1a1a1a", lineHeight: "30px" }}>{t.el}</div>
      ))}
      <div style={{ position: "absolute", left: 757, top: 623, width: 226, height: 94, border: "1.5px solid #444", boxSizing: "border-box", background: "#fff" }} />
      {legendLines.map((l, i) => (
        <React.Fragment key={"ll" + i}>
          <div style={{ position: "absolute", left: 768, top: l.cy - 1, width: 30, height: 0, ...l.sample }} />
          <div style={{ position: "absolute", left: 815, top: l.cy - 11, lineHeight: "22px", whiteSpace: "nowrap", fontFamily: SANS, fontSize: 16.5, color: "#222" }}>{l.el}</div>
        </React.Fragment>
      ))}
      <div style={{ position: "absolute", left: 728, top: 725, width: 267, height: 155, border: "1.5px solid #444", boxSizing: "border-box", background: "#fff" }} />
      {legendPatches.map((l, i) => (
        <React.Fragment key={"lp" + i}>
          <div style={{ position: "absolute", left: 735, top: l.cy - (l.patch.height as number) / 2, width: 37, boxSizing: "border-box", ...l.patch }} />
          <div style={{ position: "absolute", left: l.tx, top: l.cy - 11, lineHeight: "22px", whiteSpace: "nowrap", fontFamily: SANS, fontSize: 16.5, color: "#222" }}>{l.el}</div>
        </React.Fragment>
      ))}
    </div>
  );
}
